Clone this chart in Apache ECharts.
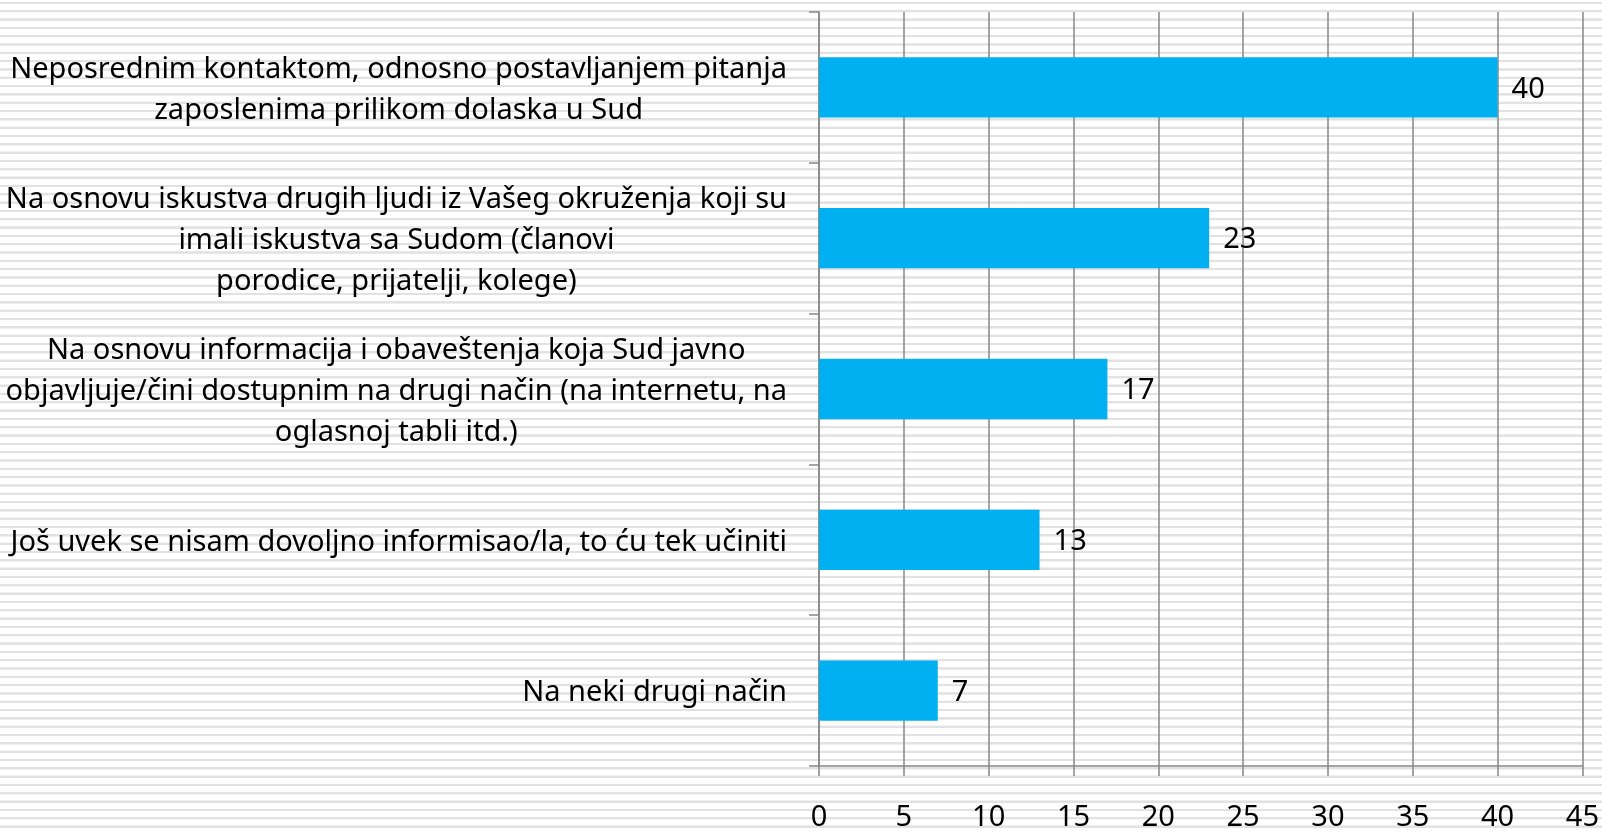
<!DOCTYPE html>
<html>
<head>
<meta charset="utf-8">
<script src="https://cdn.jsdelivr.net/npm/echarts@6/dist/echarts.min.js"></script>
<style>
  html, body {
    margin: 0;
    padding: 0;
  }
  /* prugasta pozadina kao na slajdu */
  #chart {
    width: 1602px;
    height: 832px;
    background-color: #ffffff;
    background-image: repeating-linear-gradient(180deg,
      #ffffff 0px, #ffffff 1.5px, #e2e2e2 2px, #e2e2e2 3.8px, #ffffff 4.3px, #ffffff 8.32px);
  }
</style>
</head>
<body>
<div id="chart"></div>
<script>
// kategorije (odozgo nadole) i vrednosti
const categories = [
  'Neposrednim kontaktom, odnosno postavljanjem pitanja\nzaposlenima prilikom dolaska u Sud',
  'Na osnovu iskustva drugih ljudi iz Vašeg okruženja koji su\nimali iskustva sa Sudom (članovi\nporodice, prijatelji, kolege)',
  'Na osnovu informacija i obaveštenja koja Sud javno\nobjavljuje/čini dostupnim na drugi način (na internetu, na\noglasnoj tabli itd.)',
  'Još uvek se nisam dovoljno informisao/la, to ću tek učiniti',
  'Na neki drugi način'
];
const values = [40, 23, 17, 13, 7];
const xTicks = [0, 5, 10, 15, 20, 25, 30, 35, 40, 45];

const fontFamily = "'Noto Sans', sans-serif";
const fontSize = 29;
const gridColor = '#878787';

let myChart = echarts.init(document.getElementById('chart'), null, { renderer: 'canvas' });

let option = {
  backgroundColor: 'transparent',
  animation: false,
  textStyle: { fontFamily: fontFamily },
  grid: {
    left: 819,
    right: 17,
    top: 12,
    bottom: 63
  },
  xAxis: {
    type: 'value',
    min: xTicks[0],
    max: xTicks[xTicks.length - 1],
    interval: 5,
    axisLine: { show: true, lineStyle: { color: gridColor, width: 1.5 } },
    axisTick: { show: true, length: 10, lineStyle: { color: gridColor, width: 1.5 } },
    splitLine: { show: true, lineStyle: { color: gridColor, width: 1.5 } },
    axisLabel: {
      color: '#000',
      fontSize: fontSize,
      fontFamily: fontFamily,
      margin: 37
    }
  },
  yAxis: {
    type: 'category',
    inverse: true,
    data: categories,
    axisLine: { show: true, lineStyle: { color: gridColor, width: 1.5 } },
    axisTick: { show: true, length: 10, lineStyle: { color: gridColor, width: 1.5 } },
    axisLabel: {
      margin: 32,
      color: '#000',
      fontSize: fontSize,
      fontFamily: fontFamily,
      lineHeight: 41,
      padding: [5, 0, 0, 0],
      // svaki red centriran unutar bloka
      formatter: function (val) {
        return val.split('\n').map(function (l) { return '{c|' + l + '}'; }).join('\n');
      },
      rich: {
        c: {
          align: 'center',
          color: '#000',
          fontSize: fontSize,
          fontFamily: fontFamily,
          lineHeight: 41
        }
      }
    }
  },
  series: [
    {
      type: 'bar',
      data: values,
      barCategoryGap: '60%',
      itemStyle: { color: '#00b0f0' },
      label: {
        show: true,
        position: 'right',
        distance: 14,
        offset: [0, 2],
        color: '#000',
        fontSize: fontSize,
        fontFamily: fontFamily
      }
    }
  ]
};

myChart.setOption(option);
</script>
</body>
</html>
